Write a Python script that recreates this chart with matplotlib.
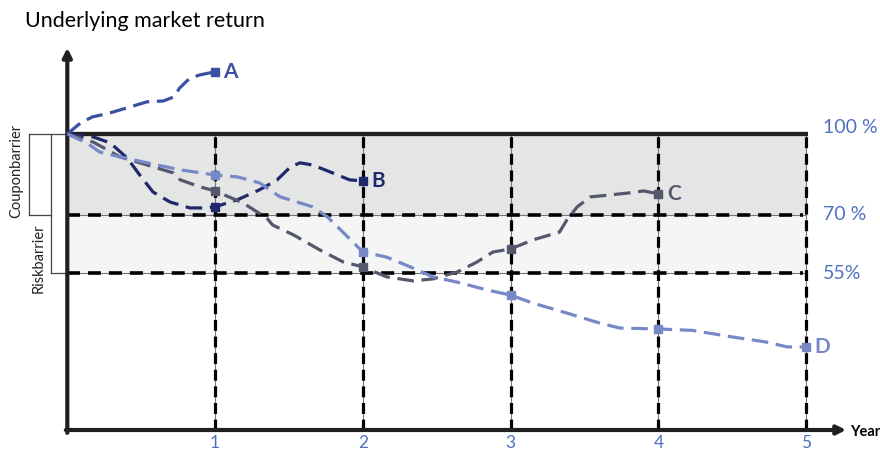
import matplotlib.pyplot as plt
import numpy as np

plt.rcParams['font.family'] = ['Lato', 'DejaVu Sans']

# data (years, % of start level)
years = [1, 2, 3, 4, 5]
year_labels = ['1', '2', '3', '4', '5']
levels = [100, 70, 55]
level_labels = ['100 %', '70 %', '55%']

a_x = [0, 0.09, 0.17, 0.29, 0.40, 0.54, 0.65, 0.72, 0.76, 0.83, 0.90, 1.0]
a_y = [100, 104.1, 106.3, 107.8, 109.6, 111.9, 112.2, 113.7, 117.0, 120.7, 121.9, 123.0]

b_x = [0, 0.175, 0.29, 0.405, 0.49, 0.58, 0.695, 0.83, 0.92, 1.0,
       1.15, 1.30, 1.42, 1.51, 1.575, 1.66, 1.78, 1.91, 2.0]
b_y = [100, 98.9, 96.7, 91.1, 84.8, 78.5, 74.8, 72.6, 72.6, 73.0,
       75.6, 79.3, 83.0, 87.8, 89.3, 88.5, 85.9, 83.0, 82.6]

c_x = [0, 0.175, 0.357, 0.54, 0.716, 0.764, 0.898, 1.0, 1.19, 1.35, 1.39, 1.53,
       1.71, 1.87, 2.0, 2.16, 2.34, 2.475, 2.64, 2.77, 2.88, 3.0, 3.15, 3.33,
       3.38, 3.45, 3.54, 3.67, 3.79, 3.90, 4.0]
c_y = [100, 97.0, 91.5, 88.5, 85.6, 83.0, 80.4, 78.9, 74.4, 69.2, 67.4, 64.9,
       61.0, 57.9, 56.7, 53.8, 52.4, 53.1, 55.4, 57.9, 60.5, 61.3, 63.6, 65.6,
       68.7, 73.0, 76.7, 77.4, 78.1, 78.9, 77.8]

d_x = [0, 0.13, 0.22, 0.357, 0.54, 0.764, 1.0, 1.15, 1.30, 1.44, 1.555, 1.66,
       1.76, 1.87, 2.0, 2.16, 2.32, 2.475, 2.66, 2.84, 3.0, 3.15, 3.38, 3.60,
       3.74, 4.0, 4.23, 4.5, 4.73, 4.87, 5.0]
d_y = [100, 96.7, 93.3, 91.5, 89.3, 86.7, 84.8, 84.1, 81.9, 76.7, 74.8, 73.0,
       69.5, 65.4, 60.5, 59.2, 56.7, 53.8, 51.7, 49.2, 47.4, 44.6, 41.1, 37.6,
       35.8, 35.5, 35.0, 32.7, 30.9, 29.2, 29.2]

curves = [('A', a_x, a_y, '#3a50a3'),
          ('B', b_x, b_y, '#1f286b'),
          ('C', c_x, c_y, '#56576a'),
          ('D', d_x, d_y, '#7788c8')]

# schematic (non-linear) vertical scale of the original drawing
scale_pct = [-50, 0, 55, 70, 100, 300]
scale_h = [-142.25, 0, 156.5, 215, 296, 836]

def fwd(y):
    return np.interp(y, scale_pct, scale_h)

def inv(h):
    return np.interp(h, scale_h, scale_pct)

fig = plt.figure(figsize=(8.8, 4.51), dpi=100)
ax = fig.add_axes([67.3 / 880, 21 / 451, (880 - 67.3) / 880, 430 / 451])
ax.set_yscale('function', functions=(fwd, inv))
ax.set_xlim(0, 5.499)
ax.set_ylim(0, 149.6)
ax.axis('off')

axis_col = '#231f20'
blue_txt = '#4e71c0'

# shaded bands
ax.fill_between([0, 5], 70, 100, color='#e4e5e5', lw=0, zorder=0)
ax.fill_between([0, 5], 55, 70, color='#f4f5f5', lw=0, zorder=0)

# barrier lines
for lv in levels[1:]:
    ax.plot([0, 5], [lv, lv], color='#777777', lw=0.8, zorder=1)
    ax.plot([0, 4.98], [lv, lv], color='black', lw=2.6, dashes=(3.6, 2.2), zorder=2)
for yr in years:
    ax.plot([yr, yr], [0, 100], color='#777777', lw=0.8, zorder=1)
    ax.plot([yr, yr], [0, 100], color='black', lw=2.3, dashes=(3.4, 1.8), zorder=2)
ax.plot([0, 5.01], [100, 100], color=axis_col, lw=3.1, solid_capstyle='butt', zorder=3)

# axes with arrows
ax.annotate('', xy=(0, 131.9), xytext=(0, -1), annotation_clip=False,
            arrowprops=dict(arrowstyle='-|>', lw=3, color=axis_col,
                            mutation_scale=13, shrinkA=0, shrinkB=0), zorder=5)
ax.annotate('', xy=(5.27, 0), xytext=(-0.01, 0), annotation_clip=False,
            arrowprops=dict(arrowstyle='-|>', lw=3, color=axis_col,
                            mutation_scale=13, shrinkA=0, shrinkB=0), zorder=5)

# curves
for name, xs, ys, col in curves:
    ax.plot(xs, ys, color=col, lw=2.3, dashes=(5.2, 2.4), zorder=6, clip_on=False)
    mx = [x for x in xs if x > 0 and float(x).is_integer()]
    my = [y for x, y in zip(xs, ys) if x > 0 and float(x).is_integer()]
    ax.plot(mx, my, 's', color=col, ms=6, zorder=7, clip_on=False)
    ax.annotate(name, xy=(xs[-1], ys[-1]), xytext=(6, 0), textcoords='offset points',
                ha='left', va='center', fontsize=15, fontweight='bold', color=col,
                annotation_clip=False)

# level labels
lvl_offset = [5, 0, 0]
for lv, lab, off in zip(levels, level_labels, lvl_offset):
    ax.annotate(lab, xy=(5.11, lv), xytext=(0, off), textcoords='offset points',
                ha='left', va='center', fontsize=14, color=blue_txt,
                annotation_clip=False)

# year tick labels
for yr, lab in zip(years, year_labels):
    ax.annotate(lab, xy=(yr, 0), xytext=(0, -9.5), textcoords='offset points',
                ha='center', va='center', fontsize=12.5, color=blue_txt,
                annotation_clip=False)

# barrier brackets on the left
br_col = '#444444'
ax.plot([-0.259, 0], [100, 100], color=br_col, lw=0.9, clip_on=False)
ax.plot([-0.259, -0.259], [100, 70], color=br_col, lw=0.9, clip_on=False)
ax.plot([-0.259, -0.11], [70, 70], color=br_col, lw=0.9, clip_on=False)
ax.plot([-0.11, -0.11], [100, 55], color=br_col, lw=0.9, clip_on=False)
ax.plot([-0.11, 0], [55, 55], color=br_col, lw=0.9, clip_on=False)
ax.text(-0.347, 86.3, 'Couponbarrier', rotation=90, ha='center', va='center',
        fontsize=10.5, color='#222222')
ax.text(-0.191, 59, 'Riskbarrier', rotation=90, ha='center', va='center',
        fontsize=10.5, color='#222222')

fig.text(25 / 880, 1 - 21 / 451, 'Underlying market return', ha='left', va='center',
         fontsize=15.5, color='black')
fig.text(850 / 880, 1 - 432 / 451, 'Year', ha='left', va='center',
         fontsize=10.5, fontweight='bold', color='black')

plt.savefig('out.png', dpi=100)
